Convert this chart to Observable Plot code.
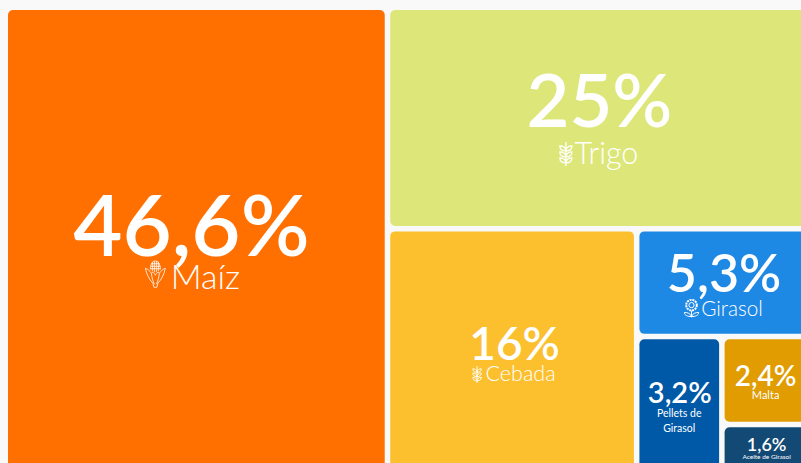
<!DOCTYPE html>
<html><head><meta charset="utf-8">
<script src="https://cdn.jsdelivr.net/npm/d3@7"></script>
<script src="https://cdn.jsdelivr.net/npm/@observablehq/plot@0.6"></script>
<style>html,body{margin:0;padding:0;background:#f9f9f9;overflow:hidden}svg{display:block}</style>
</head><body>
<div id="c"></div>
<script>
const names  = ["Maíz","Trigo","Cebada","Girasol","Pellets de\nGirasol","Malta","Aceite de Girasol"];
const shares = [46.6,25,16,5.3,3.2,2.4,1.6];
// tile areas (the Cebada label is rounded)
const areas  = [46.6,25,16.25,5.3,3.2,2.4,1.6];
const colors = ["#ff7000","#dde779","#fcc02f","#1e88e5","#0059a6","#e09c00","#134a75"];
// text styling per tile
const pctSize   = [85,74,46,52,29,28,18];
const labelSize = [34,30.5,21.5,20.7,10.5,11,6.5];
const pctDx     = [-5.5,-9,2,-9,0,-10,-9];
const pctDy     = [10,9,4,9,-7.5,5,-3.8];
const labelDx   = [8.5,-2,8,-1,-0.5,-10,-9];
const labelDy   = [43,46,25,33,21.5,18,4.2];
const iconFile  = ["corn","wheat","wheat","sunflower",null,null,null];
const iconDx    = [-41.5,-42.5,-35.5,-41.5];
const iconDy    = [28.500,35.500,18,25];
const iconW     = [21,14,12,16];
const iconH     = [28,24,17,19];

const wheat = `<svg xmlns='http://www.w3.org/2000/svg' viewBox='0 0 14 24' fill='none' stroke='white' stroke-width='1.300'><path d='M7 0V24M7 9C3 9 1 7.500 1 4 4.500 4 6.500 5.500 7 9 7.500 5.500 9.500 4 13 4 13 7.500 11 9 7 9M7 15C3 15 1 13.500 1 10 4.500 10 6.500 11.500 7 15 7.500 11.500 9.500 10 13 10 13 13.500 11 15 7 15M7 21C3 21 1 19.500 1 16 4.500 16 6.500 17.500 7 21 7.500 17.500 9.500 16 13 16 13 19.500 11 21 7 21'/></svg>`;
const corn = `<svg xmlns='http://www.w3.org/2000/svg' viewBox='0 0 21 28' fill='none' stroke='white' stroke-width='.8'><path d='M5.500 9C5.500 4 8 .6 10.500 .6 13 .6 15.500 4 15.500 9M6.300 3.500H14.700M5.500 6H15.500M5.300 8.500H15.700M7.500 1.500V11M9.500 .6V12M11.500 .6V12M13.500 1.500V11'/><path d='M.5 8C3 9 5 10.500 6.500 13 7.500 11.500 9 12 10.500 15 12 12 13.500 11.500 14.500 13 16 10.500 18 9 20.500 8 19.500 13 17 19 13 23L12 27H9L8 23C4 19 1.500 13 .5 8Z'/><path d='M6.500 13C7 17 8 21 9.500 24M14.500 13C14 17 13 21 11.500 24'/></svg>`;
const sunflower = `<svg xmlns='http://www.w3.org/2000/svg' viewBox='0 0 16 19' fill='none' stroke='white' stroke-width='1'><circle cx='8' cy='6.500' r='5.300' stroke-dasharray='2 .8' stroke-width='2'/><circle cx='8' cy='6.500' r='2.600'/><path d='M8 12V19M8 18C4 18 1 16.500 .6 14 4 13.500 7 15 8 18 9 15 12 13.500 15.400 14 15 16.500 12 18 8 18'/></svg>`;
const iconSvg = {wheat, corn, sunflower};
const uri = k => "data:image/svg+xml," + encodeURIComponent(iconSvg[k]);

const root = d3.hierarchy({children: names.map((name,i)=>({name,value:areas[i],i}))})
  .sum(d=>d.value||0);
d3.treemap().tile(d3.treemapBinary).size([817.6,470.5]).paddingInner(5.5).round(false)(root);
const tiles = root.leaves().map(n=>{
  const i=n.data.i, x0=n.x0+8, x1=n.x1+8, y0=n.y0+10, y1=n.y1+10;
  const cx=(x0+x1)/2, cy=(y0+y1)/2;
  return {i,x0,x1,y0,y1,cx,cy,name:n.data.name,
    pct:String(shares[i]).replace(".",",")+"%",
    px:cx+pctDx[i],py:cy+pctDy[i],lx:cx+labelDx[i],ly:cy+labelDy[i]};
});
const iconTiles = tiles.filter(d=>iconFile[d.i]);
const bigLabels = tiles.filter(d=>labelSize[d.i]>=15);
const smallLabels = tiles.filter(d=>labelSize[d.i]<15);

document.getElementById("c").append(Plot.plot({
  width:801,height:463,margin:0,
  x:{type:"identity",axis:null},y:{type:"identity",axis:null},
  style:{background:"#f9f9f9",fontFamily:"Lato, sans-serif"},
  marks:[
    Plot.rect(tiles,{x1:"x0",x2:"x1",y1:"y0",y2:"y1",fill:d=>colors[d.i],rx:5}),
    Plot.text(tiles,{x:"px",y:"py",text:"pct",fill:"white",fontWeight:600,lineAnchor:"bottom",fontSize:d=>pctSize[d.i]}),
    Plot.text(bigLabels,{x:"lx",y:"ly",text:"name",fill:"white",fontWeight:300,lineAnchor:"bottom",fontSize:d=>labelSize[d.i]}),
    Plot.text(smallLabels,{x:"lx",y:"ly",text:"name",fill:"white",fontWeight:400,lineAnchor:"bottom",fontSize:d=>labelSize[d.i],lineHeight:1.4}),
    Plot.image(iconTiles,{x:d=>d.cx+iconDx[d.i],y:d=>d.cy+iconDy[d.i],src:d=>uri(iconFile[d.i]),width:d=>iconW[d.i],height:d=>iconH[d.i]})
  ]
}));
</script>
</body></html>
